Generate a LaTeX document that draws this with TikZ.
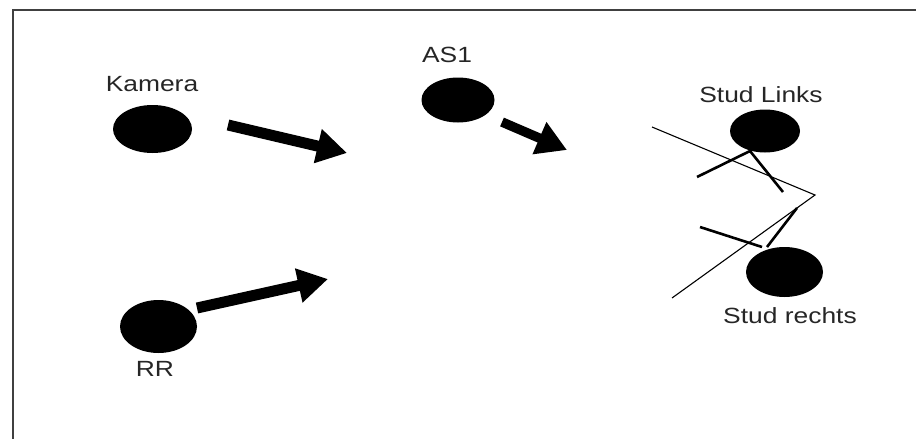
\documentclass[tikz,border=0pt]{standalone}
\usepackage{fontspec}
\setmainfont{Liberation Sans}
\usetikzlibrary{arrows.meta,shapes.geometric}

\begin{document}
\begin{tikzpicture}[x=1pt,y=-1pt,
    dot/.style={ellipse,fill=black,inner sep=0pt},
    lbl/.style={font=\fontsize{22}{25}\selectfont,text=black!85,xscale=1.2,inner sep=0pt},
    fat/.style={line width=11pt,-{Triangle[length=30pt,width=33pt]}},
    look/.style={line width=2.6pt}]
  \useasboundingbox (0,0) rectangle (916,439);
  \draw[line width=2pt,black!75] (13,439) -- (13,9.5) -- (916,9.5);

  % people
  \node[dot,minimum width=79pt,minimum height=48pt] (kamera) at (152.5,129) {};
  \node[dot,minimum width=73pt,minimum height=45pt] (as1) at (458,100) {};
  \node[dot,minimum width=77pt,minimum height=53pt] (rr) at (158.5,326.5) {};
  \node[dot,minimum width=70pt,minimum height=43pt] (links) at (765,131) {};
  \node[dot,minimum width=77pt,minimum height=50pt] (rechts) at (784.5,272) {};

  \node[lbl] (kameraname) at (152,84) {Kamera};
  \node[lbl] (as1name) at (447,55) {AS1};
  \node[lbl] (rrname) at (155,369) {RR};
  \node[lbl] (linksname) at (761,95) {Stud Links};
  \node[lbl] (rechtsname) at (790,316) {Stud rechts};

  % big arrows
  \coordinate (kamfrom) at (228,125);
  \coordinate (kamto) at (347,153);
  \coordinate (asfrom) at (502,122);
  \coordinate (asto) at (567,150);
  \coordinate (rrfrom) at (197,308);
  \coordinate (rrto) at (328,279);
  \draw[fat] (kamfrom) -- (kamto);
  \draw[fat,line width=9.5pt] (asfrom) -- (asto);
  \draw[fat] (rrfrom) -- (rrto);

  % view lines
  \coordinate (vl) at (652,127);
  \coordinate (vm) at (815,195);
  \coordinate (vr) at (672,298);
  \draw[line width=1.1pt] (vl) -- (vm) -- (vr);
  \coordinate (l0) at (750,151);
  \coordinate (l1) at (697,177);
  \coordinate (l2) at (783,192);
  \draw[look] (l1) -- (l0) -- (l2);
  \coordinate (r1) at (700,227);
  \coordinate (r2) at (762,247);
  \coordinate (r3) at (767,247);
  \coordinate (r4) at (797,208);
  \draw[look] (r1) -- (r2);
  \draw[look] (r3) -- (r4);
\end{tikzpicture}
\end{document}
